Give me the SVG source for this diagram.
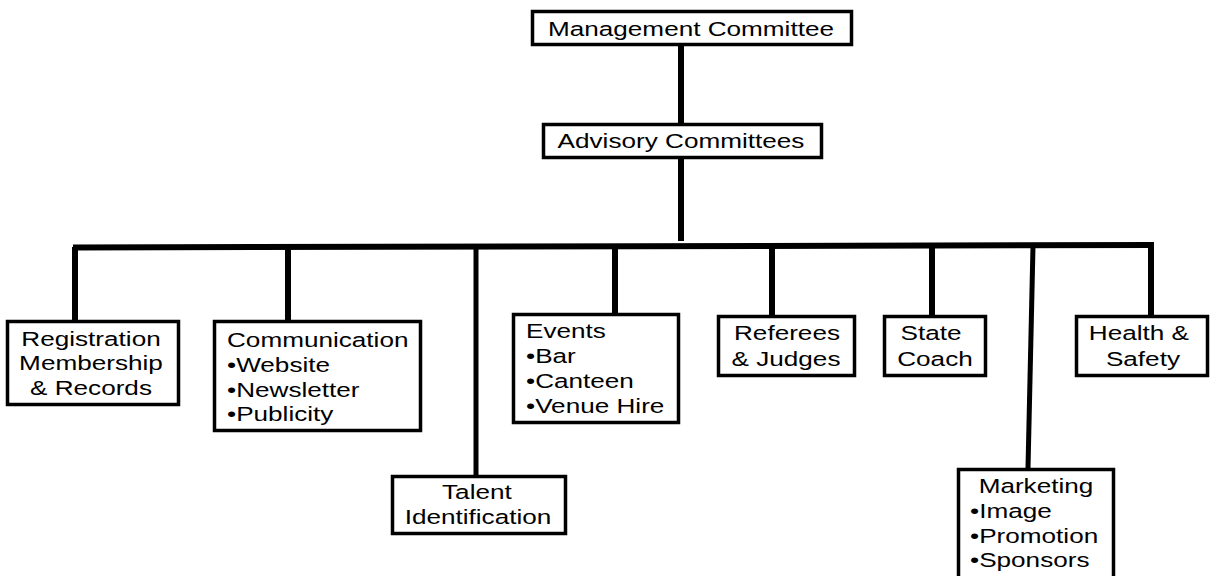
<svg xmlns="http://www.w3.org/2000/svg" width="1210" height="576" viewBox="0 0 1210 576">
<style>
  rect.box { fill: #fff; stroke: #000; stroke-width: 3.5; }
  .conn line { stroke: #000; stroke-width: 6; stroke-linecap: butt; }
  text { font-family: "Liberation Sans", Arial, sans-serif; font-size: 19.5px; fill: #000; transform-box: fill-box; }
  text.c { text-anchor: middle; transform-origin: 50% 50%; transform: scaleX(1.34); }
  text.l { text-anchor: start; transform-origin: 0% 50%; transform: scaleX(1.34); }
</style>
<rect width="1210" height="576" fill="#fff"/>
<g class="conn" id="connectors">
  <line x1="681" y1="46" x2="681" y2="123"/>
  <line x1="681" y1="159" x2="681" y2="241"/>
  <line x1="73" y1="247.5" x2="1154" y2="245"/>
  <line x1="75" y1="247" x2="75" y2="320"/>
  <line x1="288" y1="247" x2="288" y2="320"/>
  <line x1="476" y1="247" x2="476" y2="475" style="stroke-width:5"/>
  <line x1="615" y1="246" x2="615" y2="318"/>
  <line x1="772" y1="246" x2="772" y2="315"/>
  <line x1="932" y1="246" x2="932" y2="315"/>
  <line x1="1033" y1="246" x2="1028" y2="468" style="stroke-width:5"/>
  <line x1="1151" y1="245" x2="1151" y2="315"/>
</g>
<g id="management">
  <rect class="box" x="532.5" y="11.5" width="319" height="33"/>
  <text class="c" x="691" y="36">Management Committee</text>
</g>
<g id="advisory">
  <rect class="box" x="543.5" y="124.5" width="278" height="33"/>
  <text class="c" x="681" y="148">Advisory Committees</text>
</g>
<g id="registration">
  <rect class="box" x="7.5" y="321.5" width="171" height="83"/>
  <text class="c" x="91" y="346">Registration</text>
  <text class="c" x="91" y="370">Membership</text>
  <text class="c" x="91" y="395">&amp; Records</text>
</g>
<g id="communication">
  <rect class="box" x="214.5" y="321.5" width="206" height="109"/>
  <text class="l" x="227" y="347">Communication</text>
  <text class="l" x="227" y="372">•Website</text>
  <text class="l" x="227" y="397">•Newsletter</text>
  <text class="l" x="227" y="421">•Publicity</text>
</g>
<g id="talent">
  <rect class="box" x="392.5" y="476.5" width="173" height="57"/>
  <text class="c" x="477" y="499">Talent</text>
  <text class="c" x="478" y="524">Identification</text>
</g>
<g id="events">
  <rect class="box" x="513.5" y="314.5" width="165" height="108"/>
  <text class="l" x="526" y="338">Events</text>
  <text class="l" x="526" y="363">•Bar</text>
  <text class="l" x="526" y="388">•Canteen</text>
  <text class="l" x="526" y="413">•Venue Hire</text>
</g>
<g id="referees">
  <rect class="box" x="718.5" y="316.5" width="136" height="59"/>
  <text class="c" x="787" y="340">Referees</text>
  <text class="c" x="786" y="366">&amp; Judges</text>
</g>
<g id="state-coach">
  <rect class="box" x="884.5" y="316.5" width="101" height="59"/>
  <text class="c" x="931" y="340">State</text>
  <text class="c" x="935" y="366">Coach</text>
</g>
<g id="health-safety">
  <rect class="box" x="1076.5" y="316.5" width="131" height="59"/>
  <text class="c" x="1139" y="340">Health &amp;</text>
  <text class="c" x="1143" y="366">Safety</text>
</g>
<g id="marketing">
  <rect class="box" x="958.5" y="469.5" width="155" height="112"/>
  <text class="c" x="1036" y="493">Marketing</text>
  <text class="l" x="970" y="518">•Image</text>
  <text class="l" x="970" y="543">•Promotion</text>
  <text class="l" x="970" y="567">•Sponsors</text>
</g>
</svg>
